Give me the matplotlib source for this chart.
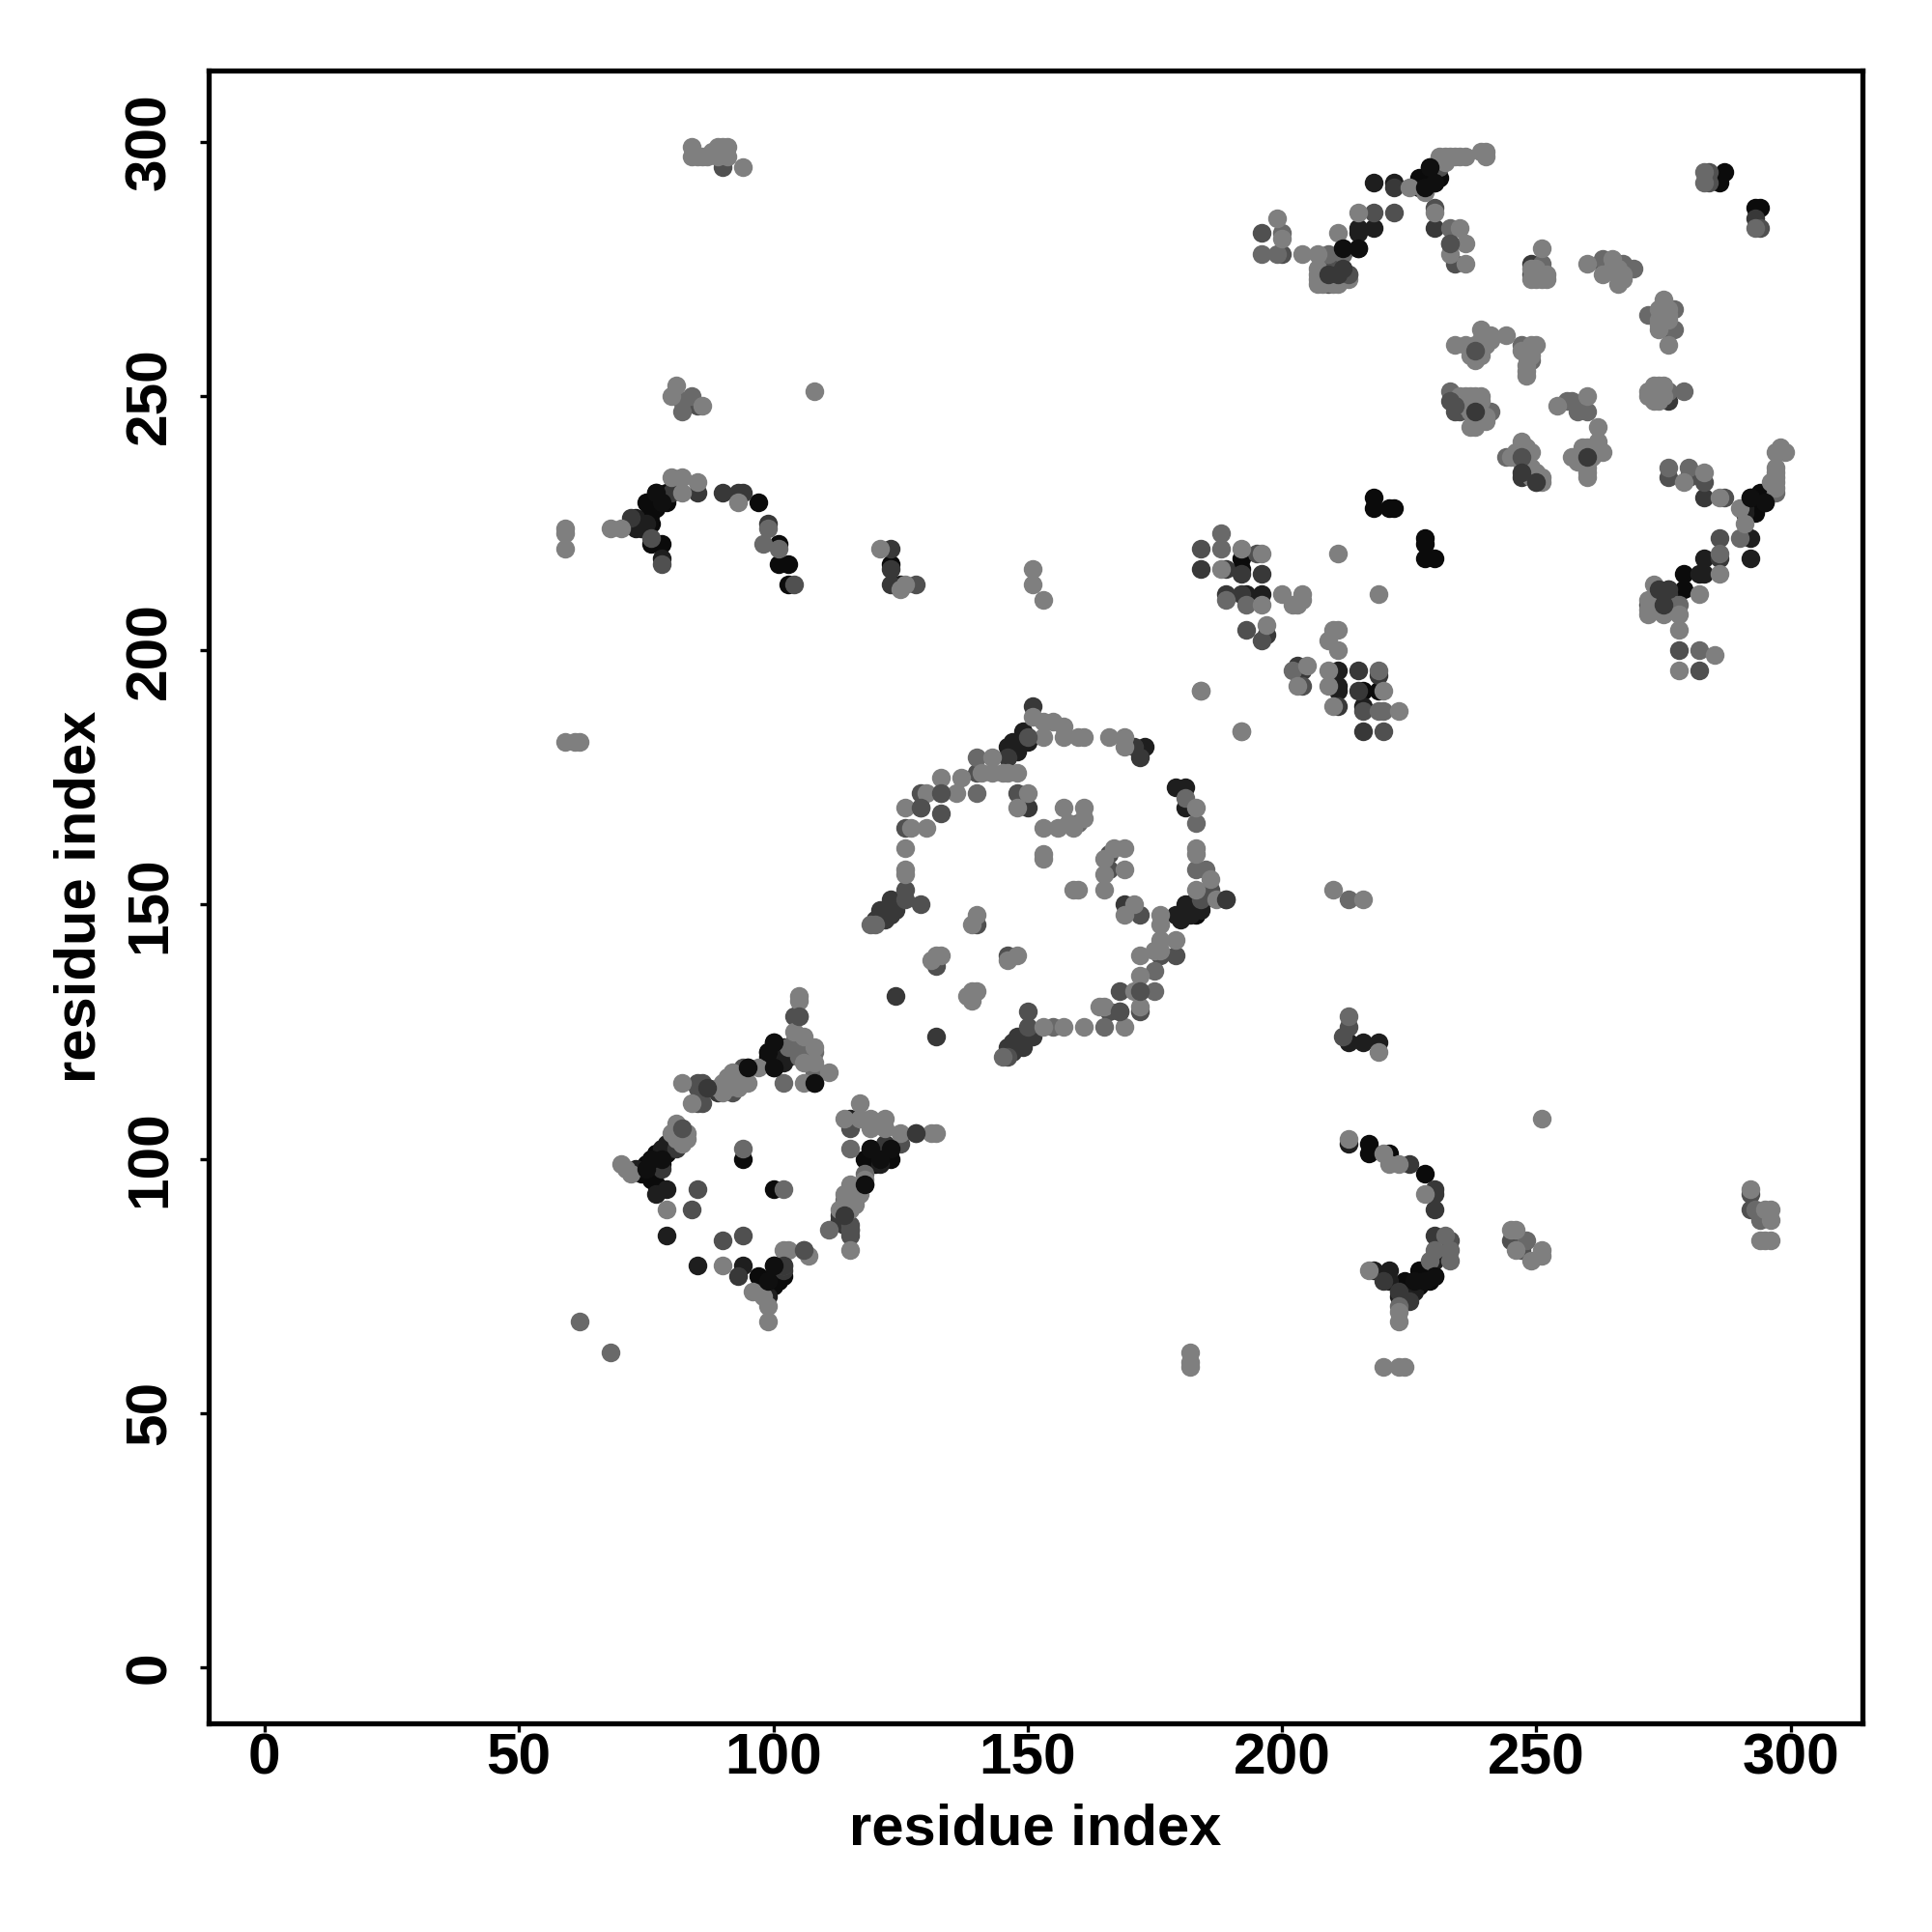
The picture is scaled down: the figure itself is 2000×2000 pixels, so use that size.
#!/usr/bin/env python3

import matplotlib
matplotlib.use('Agg')
import matplotlib.pyplot as plt

plt.rcParams['font.family'] = ['Liberation Sans', 'DejaVu Sans']
plt.rcParams['font.weight'] = 'bold'

# contacts, grouped by how dark the dot is
black = [(74,97),(75,98),(76,97),(75,99),(76,100),(77,99),(77,101),(78,100),(79,101),(76,96),(77,95),
         (74,98),(76,98),(78,101),(78,99),(77,100),
         (94,100),(100,94),(100,118),(99,121),(100,123),(101,121),(97,77),(99,76),(100,79),(101,76),
         (98,75),(100,75),(100,77),(101,78),(102,77),(98,76),(99,75),
         (101,119),(101,120),(102,120),(99,120),(100,120),(101,122),
         (119,102),(118,100),(120,101),(123,102),(120,100),(121,100),(122,100),(119,101),(121,101),(122,101),(123,100),(120,99),
         (192,218),(192,216),(218,230),(218,228),(221,228),(222,228),(228,222),(228,221),(228,218),(230,218),
         (216,192),(219,192),(212,279),(215,279),(227,293),(229,295),(228,291),(230,292),
         (229,293),(229,292),(230,294),(231,293),(228,292),(227,291),
         (294,231),(295,229),(292,230),(293,227),(279,215),(279,212),(293,229),(294,229),(292,228),(293,228),
         (75,229),(76,225),(76,227),(77,231),(78,229),(77,229),(76,221),(78,221),(97,229),(101,221),(101,217),(103,217),(103,213),(123,217),
         (78,230),(79,229),(79,231),(77,228),(76,229),(75,226),
         (217,103),(217,101),(221,101),(228,97),(230,77),(227,78),(228,76),(224,76),
         (229,77),(229,76),(228,78),(227,76),(226,76),(226,75),(225,74),(225,75),(224,74),(227,75),
         (287,294),(286,292),(293,287),(294,287),
         (181,148),(183,150),(180,148),(183,148),(182,150),(184,150)]
near_black = [(73,98),(79,102),(80,103),(79,94),(77,93),(79,85),(85,79),(95,118),(108,115),(102,119),(102,121),(115,108),
              (121,99),(118,95),(94,79),(73,224),(73,226),(78,218),(79,103),(80,102),(78,102),(99,73),(98,74),(102,122),(103,120),
              (149,184),(150,182),(147,182),(148,180),(173,181),(181,173),(179,173),(181,169),(184,149),(181,150),(182,149),(179,148),(180,147),(182,148),
              (148,181),(149,183),(150,183),(148,182),(146,181),(147,180),
              (193,211),(196,211),(211,196),(211,193),(211,192),(216,189),(218,292),(222,292),(215,283),(218,283),(215,282),
              (292,222),(292,218),(283,218),(283,215),(282,215),(276,212),(125,213),(291,227),(291,228),(74,225),(75,225),(74,224),
              (213,103),(230,80),(221,76),(221,78),(218,78),(226,74),(223,73),(213,123),(216,123),(219,123)]
dark = [(81,102),(78,98),(87,114),(89,113),(124,132),(132,124),(113,89),(114,87),(93,77),(102,78),(122,103),(113,88),(114,88),
        (151,189),(123,151),(121,149),(124,149),(122,147),(151,124),(148,124),(149,122),(146,122),(146,179),(172,179),(171,181),
        (147,121),(148,122),(149,123),(150,124),(150,125),(147,123),(146,121),(122,149),(123,150),(120,147),(121,147),(123,148),(122,148),(124,150),
        (150,169),(169,150),(189,151),(189,216),(192,215),(192,211),(189,211),(196,215),(184,216),(197,203),(203,197),(204,196),(215,196),(215,192),(211,189),
        (219,195),(216,184),(230,283),(222,291),(212,275),(249,276),(247,234),(276,249),(283,230),(274,212),(275,209),(286,218),(275,211),(276,211),(274,210),(276,210),
        (72,226),(80,231),(85,231),(90,231),(93,231),(94,231),(99,225),(123,220),(123,216),(123,213),(293,285),(223,74),(224,72),
        (230,94),(230,93),(230,90),(225,99),(230,85),(225,72),(220,76)]
medium = [(85,94),(94,85),(84,90),(90,84),(85,114),(85,115),(86,115),(85,111),(86,111),(92,113),(94,118),(105,128),(104,128),(104,123),(115,106),(125,103),(128,105),(115,86),(102,79),(106,82),(115,85),(115,87),
          (82,106),(140,176),(133,172),(129,172),(129,169),(133,168),(126,165),(129,150),(126,151),(126,153),(172,133),(168,133),(168,129),(166,129),(172,129),(150,129),(150,126),(146,120),(132,138),(140,146),(146,140),
          (148,172),(166,160),(166,157),(172,148),(186,153),(184,151),(179,140),(176,140),(184,220),(195,219),(193,204),(196,202),(204,193),(216,188),(220,184),(222,286),(218,286),
          (230,287),(234,276),(233,280),(196,282),(200,278),(209,275),(209,272),(211,273),(211,275),(211,274),(249,274),(263,276),(276,263),(234,247),(238,247),(240,247),(235,247),(260,238),
          (276,234),(280,234),(283,233),(287,230),(278,200),(282,196),(272,209),(286,222),(284,294),(90,295),(85,248),(76,222),(78,217),(104,213),(128,213),(275,210),(274,211),(294,283),(284,292),
          (213,126),(212,124),(233,84),(245,84),(247,82),(292,93),(292,90),(231,295)]
mid_gray = [(62,68),(68,62),(94,102),(102,94),(102,115),(108,117),(111,86),(115,102),(118,97),(114,92),(103,122),(105,122),(105,120),(107,120),(108,121),(108,118),
            (140,179),(140,172),(175,137),(175,133),(120,146),(119,146),(145,120),(160,166),(183,166),(183,157),(185,157),(181,171),(165,126),(155,126),
            (188,220),(188,223),(193,209),(189,210),(202,196),(219,196),(219,188),(220,188),(200,282),(209,278),(212,278),(213,274),(196,278),(199,278),(233,283),(251,276),
            (266,276),(267,276),(269,275),(263,277),(272,266),(277,267),(275,266),(277,263),(247,260),(249,257),(233,251),(237,249),(241,247),
            (257,249),(256,249),(260,247),(258,247),(260,239),(244,238),(276,251),(279,251),(276,236),(280,236),(278,209),(273,210),(277,209),(282,200),(283,292),(283,294),
            (297,231),(290,222),(286,219),(84,250),(82,249),(82,247),(98,221),(99,224),(101,220),
            (213,128),(213,151),(229,80),(232,85),(230,82),(233,82),(233,80),(223,71),(248,84),(293,90),(294,88),(293,283)]
light = [(70,99),(71,98),(72,97),(80,105),(81,104),(82,103),(82,105),(81,107),(83,104),(83,105),(79,90),(90,79),(99,68),(99,71),(98,73),
         (82,115),(84,111),(90,115),(91,116),(92,117),(95,115),(97,118),(105,132),(105,131),(108,122),(108,119),(111,117),(106,119),(106,115),(104,125),(106,124),
         (89,114),(90,114),(91,114),(91,115),(92,115),(93,115),(93,116),(94,116),(93,114),(90,113),
         (117,111),(114,108),(117,108),(119,108),(119,106),(122,108),(122,106),(125,105),(132,105),(131,105),(118,96),(115,95),(115,90),(117,93),(115,82),
         (114,91),(115,92),(116,93),(116,92),(115,91),(114,93),(113,90),(115,94),(116,91),(117,94),
         (103,82),(102,82),(107,81),(96,74),
         (151,187),(153,186),(155,186),(157,185),(157,183),(153,183),(160,183),(161,183),(166,183),(169,183),(169,181),(143,179),(192,184),(184,192),
         (141,176),(143,176),(145,176),(146,176),(148,176),(137,175),(133,175),(136,172),(130,172),(126,169),(130,165),(127,165),(126,161),(126,157),(126,156),
         (148,169),(150,172),(157,169),(161,169),(161,167),(153,165),(156,165),(158,166),(159,165),(153,160),(153,159),(169,161),(167,161),(165,159),(165,156),(169,157),(165,153),(159,153),(160,153),
         (140,148),(139,146),(132,140),(133,140),(131,139),(148,140),(146,139),(140,133),(139,131),(138,132),(139,133),
         (171,150),(169,148),(183,169),(183,161),(183,160),(186,155),(183,153),(187,151),
         (176,148),(176,146),(176,143),(176,141),(179,143),(175,141),(172,140),(172,136),(171,133),(164,130),(165,130),(172,130),(169,126),(161,126),(157,126),(153,126),
         (192,220),(196,219),(188,216),(200,211),(204,211),(204,210),(202,209),(203,209),(196,209),(197,205),(211,219),(219,211),(184,192),(192,184),
         (205,197),(203,193),(209,196),(209,193),(210,204),(211,204),(209,202),(211,200),(210,189),(220,192),(223,188),
         (225,291),(228,290),(231,297),(232,297),(233,297),(234,297),(235,297),(236,297),(232,296),(240,298),(240,297),(239,298),(230,286),(235,283),(236,280),(233,278),(236,276),(215,286),(211,282),(199,285),(200,281),(204,278),(207,278),
         (207,275),(207,272),(208,272),(210,272),(213,273),(207,273),(207,274),(208,274),(209,273),(211,272),(212,273),
         (251,279),(249,273),(252,273),(252,274),(250,273),(250,274),(251,274),(251,273),(249,275),(250,275),
         (260,276),(263,274),(266,272),(267,273),(265,275),(266,274),(267,274),(265,277),(266,275),
         (275,269),(274,267),(274,263),(276,260),(275,268),(275,267),(276,266),(276,267),(274,265),(276,265),(274,264),
         (239,263),(241,262),(244,262),(239,260),(234,260),(236,260),(240,261),(237,258),(238,257),(238,258),(238,260),(239,261),(240,260),(240,262),(237,259),(239,258),(241,261),
         (247,259),(250,260),(249,260),(248,254),(248,256),(248,258),(248,259),(249,258),(248,255),
         (235,250),(239,249),(237,244),(239,245),(238,244),(237,247),(234,249),(236,248),(237,248),(235,249),(238,246),(240,245),(240,246),(236,250),(237,250),(238,250),(239,250),
         (254,248),(260,250),(262,244),(262,241),(257,238),(263,239),(260,234),(260,236),(258,237),(259,238),(261,240),(262,239),(261,238),(259,240),(260,240),(260,237),(260,235),
         (247,241),(249,239),(247,237),(249,236),(251,233),(250,235),(245,238),(246,238),(246,239),(248,240),(248,238),(248,236),(248,235),(250,234),(251,234),(249,234),(250,233),
         (273,252),(274,252),(273,249),(274,249),(272,251),(272,250),(273,250),(273,251),(274,251),(275,252),(275,250),
         (279,233),(283,235),(286,230),
         (298,240),(299,239),(297,239),(297,235),(297,233),(297,234),(297,232),(296,233),(297,236),(290,228),(291,225),(286,215),(282,211),(272,210),(273,213),(272,207),(275,207),(278,207),(278,204),(285,199),(278,196),(272,208),(273,208),(274,208),
         (84,299),(84,297),(85,297),(86,297),(88,298),(89,297),(91,299),(91,297),(89,299),(90,298),(90,299),(87,297),(94,295),(108,251),(81,252),(80,250),(86,248),
         (59,224),(59,223),(59,220),(68,224),(70,224),(80,234),(82,234),(82,231),(85,233),(93,229),(121,220),(125,212),(126,213),
         (151,216),(151,213),(153,210),(59,182),(61,182),(62,182),(182,62),(182,60),(182,59),(220,59),(223,59),(224,59),(210,153),(216,151),(219,121),
         (213,104),(220,101),(221,99),(223,99),(228,93),(217,78),(223,70),(223,68),(251,108),
         (246,86),(245,86),(246,82),(249,80),(251,82),(251,81),(292,94),(295,90),(296,90),(296,88),(294,84),(296,84),(295,84)]

# dots that sit on top of the lighter ones in the picture
top_medium = [(82,106),(105,128),(115,86),(106,82),(150,183),(133,172),(129,169),(172,133),(168,129),(213,274),(233,249),(234,248),(247,238),(238,259),(233,280)]
top_dark = [(128,105),(102,79),(87,114),(114,89),(189,151),(209,274),(211,274),(212,275),(274,212),(276,212),(275,209),(238,247),(247,235),(250,233),(260,238)]
top_black = [(212,279),(215,279),(228,291),(230,292),(229,295),(119,102),(123,102),(121,100),(99,76),(100,79),(76,100),(78,100),(75,98),
             (78,229),(77,231),(292,230),(295,229),(230,77),(226,76),(228,76),(100,123),(99,121),(100,118),(108,115),(95,118),(118,95)]

levels = [(black, '#0b0b0b'), (near_black, '#1e1e1e'), (dark, '#383838'),
          (medium, '#505050'), (mid_gray, '#696969'), (light, '#7f7f7f'),
          (top_medium, '#505050'), (top_dark, '#383838'), (top_black, '#0f0f0f')]

tick_values = [0, 50, 100, 150, 200, 250, 300]

fig = plt.figure(figsize=(20, 20), dpi=100)
ax = fig.add_axes([216 / 2000, 1 - 1784 / 2000, 1712 / 2000, 1711 / 2000])

for points, shade in levels:
    ax.scatter([p[0] for p in points], [p[1] for p in points], s=196, c=shade, linewidths=0)

ax.set_xlim(-11, 314.1)
ax.set_ylim(-11, 314)
ax.set_xticks(tick_values)
ax.set_yticks(tick_values)
ax.tick_params(length=6.5, width=2.4, labelsize=43.5)
ax.tick_params(axis='x', pad=0)
ax.tick_params(axis='y', pad=17)
plt.setp(ax.get_yticklabels(), rotation=90, va='center')
for side in ax.spines.values():
    side.set_linewidth(3.8)

ax.set_xlabel('residue index', fontsize=43, fontweight='bold', labelpad=13)
ax.set_ylabel('residue index', fontsize=43, fontweight='bold', labelpad=13)

plt.savefig('out.png', dpi=100)
